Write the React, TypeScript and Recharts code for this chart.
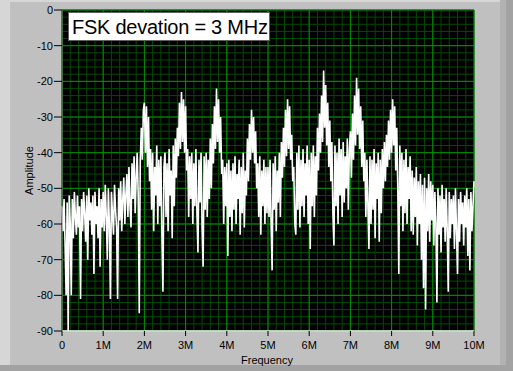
import React from "react";
import {
  LineChart,
  Line,
  XAxis,
  YAxis,
  CartesianGrid,
  Label,
} from "recharts";

// spectrum trace, one reading every 0.025 MHz from 0 to 10 MHz (one row = 0.5 MHz)
const amplitude = [
  -55, -62, -53, -66, -80, -54, -90, -52, -60, -80, -53, -64, -51, -58, -63, -52, -61, -55, -81, -53,
  -62, -51, -57, -65, -52, -70, -50, -59, -54, -63, -52, -74, -51, -60, -55, -64, -50, -72, -53, -61,
  -51, -62, -49, -58, -70, -50, -60, -81, -51, -57, -63, -49, -56, -61, -81, -50, -59, -48, -62, -53,
  -47, -60, -52, -46, -58, -44, -55, -61, -43, -53, -41, -57, -47, -40, -52, -85, -42, -33, -42, -28,
  -26, -40, -27, -44, -30, -48, -39, -56, -40, -62, -44, -52, -38, -60, -42, -55, -41, -63, -79, -44,
  -40, -58, -43, -62, -39, -52, -45, -64, -38, -55, -36, -47, -33, -41, -26, -39, -23, -37, -25, -40,
  -27, -45, -39, -58, -41, -53, -40, -60, -43, -55, -39, -57, -68, -42, -54, -40, -61, -72, -41, -56,
  -40, -58, -42, -53, -36, -50, -32, -43, -27, -39, -22, -37, -25, -40, -30, -46, -42, -60, -44, -55,
  -43, -69, -42, -58, -45, -62, -43, -56, -41, -60, -46, -53, -42, -63, -44, -57, -40, -61, -45, -52,
  -36, -48, -32, -42, -28, -40, -30, -43, -34, -50, -43, -58, -41, -63, -45, -55, -42, -60, -44, -57,
  -44, -58, -42, -60, -73, -43, -56, -41, -62, -45, -54, -40, -58, -37, -47, -33, -44, -28, -41, -25,
  -39, -27, -42, -35, -48, -44, -60, -63, -40, -56, -38, -61, -42, -55, -39, -58, -43, -52, -38, -60,
  -42, -67, -40, -55, -38, -58, -41, -52, -33, -45, -29, -40, -24, -37, -17, -33, -21, -38, -26, -44,
  -31, -48, -37, -57, -66, -38, -55, -40, -60, -36, -52, -39, -58, -37, -54, -41, -50, -36, -56, -39,
  -34, -47, -29, -42, -24, -38, -19, -35, -22, -39, -27, -44, -31, -48, -40, -58, -42, -55, -67, -41,
  -60, -42, -56, -39, -64, -43, -53, -40, -65, -42, -57, -39, -50, -37, -48, -35, -44, -31, -42, -28,
  -40, -25, -38, -27, -45, -33, -50, -74, -38, -55, -40, -62, -42, -57, -39, -60, -44, -53, -41, -62,
  -45, -63, -47, -58, -44, -66, -48, -60, -46, -70, -49, -78, -47, -84, -50, -62, -46, -65, -48, -59,
  -49, -66, -51, -60, -82, -50, -63, -52, -68, -49, -61, -53, -65, -50, -62, -79, -51, -64, -53, -60,
  -52, -67, -50, -62, -74, -53, -65, -51, -60, -54, -66, -52, -61, -50, -69, -53, -73, -51, -62, -55,
  -48,
];

const freqStep = 0.025; // MHz
const xTicks = [0, 1, 2, 3, 4, 5, 6, 7, 8, 9, 10];
const yTicks = [0, -10, -20, -30, -40, -50, -60, -70, -80, -90];
const minorX = Array.from({ length: 51 }, (_, i) => i * 0.2);
const minorY = Array.from({ length: 46 }, (_, i) => -i * 2);

const data = amplitude.map((a, i) => ({ f: +(i * freqStep).toFixed(3), a }));

const font = "'Liberation Sans', Arial, sans-serif";
const tickStyle = { fontSize: 11, fill: "#000", fontFamily: font };

// minor grid positions through the axis scale when it is handed over
const minorV = ({ xAxis, offset }: any) =>
  minorX.map((v) =>
    xAxis && typeof xAxis.scale === "function"
      ? xAxis.scale(v)
      : offset.left + (v / 10) * offset.width
  );
const minorH = ({ yAxis, offset }: any) =>
  minorY.map((v) =>
    yAxis && typeof yAxis.scale === "function"
      ? yAxis.scale(v)
      : offset.top + (-v / 90) * offset.height
  );

export default function App() {
  return (
    <div
      style={{
        position: "absolute",
        left: 0,
        top: 0,
        width: 513,
        height: 371,
        background: "#c0c0c0",
        overflow: "hidden",
      }}
    >
      {/* panel bevel */}
      <div style={{ position: "absolute", left: 0, top: 0, width: 10, height: 371, background: "#d6d6d6" }} />
      <div style={{ position: "absolute", left: 0, top: 0, width: 513, height: 2, background: "#d6d6d6" }} />
      <div style={{ position: "absolute", left: 500, top: 0, width: 6, height: 371, background: "#b2b2b2" }} />
      <div style={{ position: "absolute", left: 506, top: 0, width: 7, height: 371, background: "#a2a2a2" }} />
      <div style={{ position: "absolute", left: 0, top: 365, width: 513, height: 6, background: "#a2a2a2" }} />

      <div style={{ position: "absolute", left: 0, top: 0 }}>
        <LineChart
          width={513}
          height={371}
          data={data}
          margin={{ top: 10, right: 39, left: 0, bottom: 0 }}
        >
          <CartesianGrid
            stroke="#004a00"
            fill="#000"
            verticalCoordinatesGenerator={minorV}
            horizontalCoordinatesGenerator={minorH}
          />
          <CartesianGrid stroke="#009000" fill="none" />
          <XAxis
            dataKey="f"
            type="number"
            domain={[0, 10]}
            ticks={xTicks}
            interval={0}
            height={40}
            tickSize={5}
            tickMargin={5}
            tick={tickStyle}
            tickLine={{ stroke: "#000" }}
            axisLine={{ stroke: "#f4f4f4", strokeWidth: 1.5 }}
            tickFormatter={(v: number) => (v === 0 ? "0" : `${v}M`)}
          >
            <Label
              content={({ viewBox }: any) => (
                <text
                  x={viewBox.x + viewBox.width / 2 - 1}
                  y={viewBox.y + 33}
                  textAnchor="middle"
                  style={tickStyle}
                >
                  Frequency
                </text>
              )}
            />
          </XAxis>
          <XAxis
            xAxisId="top"
            orientation="top"
            dataKey="f"
            type="number"
            domain={[0, 10]}
            height={0}
            tick={false}
            tickLine={false}
            axisLine={{ stroke: "#707070" }}
          />
          <YAxis
            type="number"
            domain={[-90, 0]}
            ticks={yTicks}
            interval={0}
            width={62}
            tickSize={8}
            tickMargin={1}
            tick={tickStyle}
            tickLine={{ stroke: "#000" }}
            axisLine={{ stroke: "#707070" }}
          >
            <Label
              content={({ viewBox }: any) => (
                <text
                  transform={`translate(${viewBox.x + 33}, ${viewBox.y + viewBox.height / 2}) rotate(-90)`}
                  textAnchor="middle"
                  style={tickStyle}
                >
                  Amplitude
                </text>
              )}
            />
          </YAxis>
          <YAxis
            yAxisId="right"
            orientation="right"
            type="number"
            domain={[-90, 0]}
            width={0}
            tick={false}
            tickLine={false}
            axisLine={{ stroke: "#f4f4f4", strokeWidth: 1.5 }}
          />
          <Line
            type="linear"
            dataKey="a"
            stroke="#ffffff"
            strokeWidth={1.6}
            dot={false}
            isAnimationActive={false}
          />
        </LineChart>
      </div>

      <div
        style={{
          position: "absolute",
          left: 68,
          top: 12,
          width: 202,
          height: 29,
          background: "#fff",
          border: "1px solid #606060",
          fontFamily: font,
          fontSize: 20,
          letterSpacing: -0.25,
          lineHeight: "29px",
          paddingLeft: 3,
          boxSizing: "border-box",
          color: "#000",
          whiteSpace: "nowrap",
        }}
      >
        FSK devation = 3 MHz
      </div>
    </div>
  );
}
